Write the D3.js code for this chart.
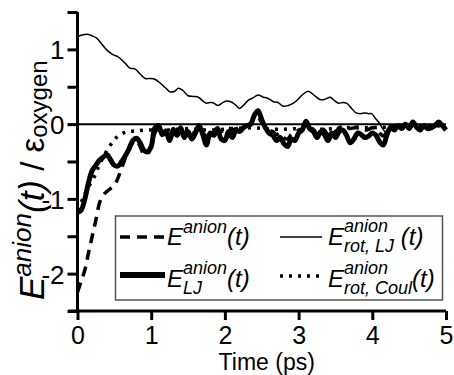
<!DOCTYPE html>
<html><head><meta charset="utf-8">
<script src="https://cdn.jsdelivr.net/npm/d3@7"></script>
<style>
html,body{margin:0;padding:0;background:#fff;}
svg{display:block;font-family:"Liberation Sans",Arial,sans-serif;}
</style></head>
<body><svg id="c" width="454" height="375"></svg>
<script>
// ---- data ----
const xTicks = [0,1,2,3,4,5];
const yTicks = [-2.5,-2,-1.5,-1,-0.5,0,0.5,1,1.5];
const yLabels = [-2,-1,0,1];

const eTotal = [[0,-2.25],[0.05,-2.10],[0.10,-1.95],[0.15,-1.72],[0.20,-1.50],[0.25,-1.28],[0.30,-1.05],[0.35,-0.95],[0.40,-0.90],[0.45,-0.86],[0.50,-0.82],[0.55,-0.72],[0.60,-0.58],[0.65,-0.45],[0.70,-0.32],[0.75,-0.25],[0.80,-0.22],[0.85,-0.30],[0.90,-0.40],[0.95,-0.40],[1.00,-0.30],[1.05,-0.12],[1.10,-0.05],
 [1.15,-0.12],[1.20,-0.08],[1.25,-0.16],[1.30,-0.06],[1.35,-0.12],[1.40,-0.08],[1.45,-0.14],[1.50,-0.06],[1.55,-0.12],[1.60,-0.10],[1.65,-0.04],[1.70,-0.10],[1.75,-0.18],[1.80,-0.10],[1.85,-0.08],[1.90,-0.06],[1.95,-0.10],[2.00,-0.07],[2.05,-0.05],[2.10,-0.08],[2.15,-0.06],[2.20,-0.05],[2.25,-0.04],[2.30,-0.03],[2.35,-0.01],[2.40,0.05],[2.45,0.08],[2.50,0.02],[2.55,-0.04],[2.60,-0.08],[2.65,-0.10],[2.70,-0.14],[2.75,-0.12],[2.80,-0.18],[2.85,-0.20],[2.90,-0.14],[2.95,-0.12],[3.00,-0.08],[3.05,-0.06],[3.10,0.00],[3.15,-0.05],[3.20,-0.07],[3.25,-0.12],[3.30,-0.06],[3.35,-0.08],[3.40,-0.14],[3.45,-0.07],[3.50,-0.10],[3.55,-0.05],[3.60,-0.04],[3.65,-0.06],[3.70,-0.06],[3.75,-0.05],[3.80,-0.04],[3.85,-0.06],[3.90,-0.08],[3.95,-0.07],[4.00,-0.05],[4.05,-0.06],[4.10,-0.12],[4.15,-0.16],[4.20,-0.10],[4.25,-0.03],[4.30,-0.06],[4.35,-0.01],[4.40,-0.05],[4.45,0.01],[4.50,-0.04],[4.55,0.02],[4.60,-0.03],[4.65,-0.06],[4.70,-0.02],[4.75,-0.05],[4.80,-0.04],[4.85,-0.01],[4.90,0.02],[4.95,-0.01],[5.00,-0.06]];

const eLJ = [[0,-1.18],[0.05,-1.15],[0.10,-1.00],[0.15,-0.78],[0.20,-0.62],[0.25,-0.55],[0.30,-0.48],[0.35,-0.44],[0.40,-0.41],[0.45,-0.48],[0.50,-0.55],[0.55,-0.56],[0.60,-0.50],[0.65,-0.42],[0.70,-0.33],[0.75,-0.22],[0.80,-0.19],[0.85,-0.25],[0.90,-0.35],[0.95,-0.37],[1.00,-0.30],[1.05,-0.05],[1.10,-0.02],[1.15,-0.14],[1.20,-0.10],[1.25,-0.22],[1.30,-0.08],[1.35,-0.15],[1.40,-0.05],[1.45,-0.18],[1.50,-0.10],[1.55,-0.20],[1.60,-0.12],[1.65,-0.02],[1.70,-0.14],[1.75,-0.28],[1.80,-0.12],[1.85,-0.15],[1.90,-0.06],[1.95,-0.20],[2.00,-0.22],[2.05,-0.10],[2.10,-0.18],[2.15,-0.08],[2.20,-0.10],[2.25,-0.05],[2.30,-0.02],[2.35,0.00],[2.40,0.12],[2.45,0.18],[2.50,0.06],[2.55,-0.05],[2.60,-0.12],[2.65,-0.15],[2.70,-0.22],[2.75,-0.18],[2.80,-0.26],[2.85,-0.30],[2.90,-0.20],[2.95,-0.22],[3.00,-0.12],[3.05,-0.08],[3.10,0.04],[3.15,-0.06],[3.20,-0.10],[3.25,-0.18],[3.30,-0.10],[3.35,-0.14],[3.40,-0.22],[3.45,-0.12],[3.50,-0.18],[3.55,-0.10],[3.60,-0.08],[3.65,-0.15],[3.70,-0.25],[3.75,-0.20],[3.80,-0.12],[3.85,-0.14],[3.90,-0.18],[3.95,-0.16],[4.00,-0.12],[4.05,-0.15],[4.10,-0.24],[4.15,-0.28],[4.20,-0.14],[4.25,-0.04],[4.30,-0.08],[4.35,-0.02],[4.40,-0.06],[4.45,0.00],[4.50,-0.06],[4.55,0.03],[4.60,-0.04],[4.65,-0.08],[4.70,-0.02],[4.75,-0.06],[4.80,-0.05],[4.85,-0.02],[4.90,0.03],[4.95,-0.02],[5.00,-0.08]];

const eRotLJ = [[0,1.17],[0.05,1.19],[0.10,1.20],[0.15,1.20],[0.20,1.18],[0.26,1.15],[0.33,1.07],[0.40,0.99],[0.48,0.93],[0.55,0.90],[0.60,0.86],[0.66,0.80],[0.71,0.75],[0.78,0.74],[0.85,0.67],[0.92,0.61],[0.98,0.61],[1.05,0.60],[1.12,0.55],[1.20,0.48],[1.26,0.43],[1.32,0.44],[1.37,0.48],[1.43,0.45],[1.50,0.38],[1.57,0.37],[1.64,0.36],[1.70,0.31],[1.75,0.28],[1.80,0.29],[1.84,0.285],[1.91,0.25],[1.96,0.28],[2.02,0.31],[2.08,0.30],[2.14,0.26],[2.20,0.21],[2.26,0.26],[2.32,0.32],[2.38,0.35],[2.45,0.39],[2.52,0.36],[2.57,0.35],[2.61,0.33],[2.66,0.30],[2.72,0.29],[2.79,0.24],[2.86,0.25],[2.93,0.28],[3.00,0.34],[3.06,0.40],[3.13,0.44],[3.18,0.41],[3.23,0.37],[3.29,0.33],[3.35,0.33],[3.43,0.36],[3.48,0.32],[3.54,0.28],[3.60,0.29],[3.65,0.28],[3.72,0.21],[3.78,0.15],[3.84,0.14],[3.90,0.15],[3.95,0.14],[3.99,0.14],[4.04,0.08],[4.10,0.01],[4.14,-0.06],[4.18,-0.10],[4.22,-0.05],[4.28,-0.02],[4.35,-0.03],[4.42,-0.01],[4.48,-0.05],[4.55,0.02],[4.62,-0.05],[4.68,-0.04],[4.75,-0.06],[4.82,-0.03],[4.90,0.02],[4.95,-0.02],[5.00,-0.07]];

const eRotCoul = [[0,-1.15],[0.05,-1.05],[0.10,-0.93],[0.15,-0.84],[0.23,-0.70],[0.29,-0.56],[0.35,-0.44],[0.42,-0.32],[0.49,-0.22],[0.55,-0.16],[0.62,-0.12],[0.70,-0.10],[0.80,-0.09],[0.95,-0.08],[1.2,-0.08],[1.5,-0.06],[1.8,-0.08],[2.1,-0.06],[2.4,-0.05],[2.7,-0.07],[3.0,-0.06],[3.3,-0.07],[3.6,-0.05],[3.9,-0.05],[4.2,-0.04],[4.5,-0.03],[4.8,-0.02],[5.0,-0.03]];

// ---- chart ----
const svg = d3.select("#c");
const x = d3.scaleLinear().domain([0,5]).range([77.5,446]);
const y = d3.scaleLinear().domain([-2.5,1.5]).range([311,12]);

// zero line
svg.append("line").attr("x1",x(0)).attr("x2",x(5)).attr("y1",y(0)).attr("y2",y(0))
  .attr("stroke","#000").attr("stroke-width",2);

const line = d3.line().x(d=>x(d[0])).y(d=>y(d[1])).curve(d3.curveCatmullRom);
const styles = {
  total:{w:3.5,dash:"10,7"},
  lj:{w:5,dash:null},
  rotlj:{w:1.5,dash:null},
  coul:{w:3.5,dash:"3,6"}
};
function draw(data, st){
  svg.append("path").datum(data).attr("d",line).attr("fill","none")
    .attr("stroke","#000").attr("stroke-width",st.w)
    .attr("stroke-dasharray",st.dash).attr("stroke-linejoin","round");
}
draw(eRotLJ, styles.rotlj);
draw(eRotCoul, styles.coul);
draw(eTotal, styles.total);
draw(eLJ, styles.lj);

// axes
const yAxis = d3.axisLeft(y).tickValues(yTicks).tickSize(10)
  .tickFormat(d=> yLabels.includes(d) ? String(d) : "");
const gy = svg.append("g").attr("transform",`translate(${x(0)},0)`).call(yAxis);
gy.select(".domain").attr("stroke-width",3).attr("d",`M0,${y(1.5)}V${y(-2.5)}`);
gy.selectAll(".tick line").attr("stroke-width",3);
gy.selectAll(".tick text").attr("font-size",26).attr("font-family","Liberation Sans, Arial, sans-serif").attr("x",-13).attr("dy","0.36em");

const xAxis = d3.axisBottom(x).tickValues(xTicks).tickSize(9).tickFormat(d=>String(d));
const gx = svg.append("g").attr("transform",`translate(0,${y(-2.5)})`).call(xAxis);
gx.select(".domain").attr("stroke-width",3).attr("d",`M${x(0)-9},0H${x(5)}`);
gx.selectAll(".tick line").attr("stroke-width",3);
gx.selectAll(".tick text").attr("font-size",25).attr("font-family","Liberation Sans, Arial, sans-serif").attr("y",15).attr("dy","0.71em");

svg.append("text").attr("x",(x(0)+x(5))/2+5).attr("y",370).attr("text-anchor","middle")
  .attr("font-size",23).text("Time (ps)");

// rich text helper: sequential runs, optional stacked sup/sub
function rich(g, x0, y0, runs){
  let cx = x0;
  let stackStart = null, stackW = 0;
  runs.forEach(r=>{
    if(r.stackNext){ stackStart = cx; }
    const px = (r.stackSecond ? stackStart : cx);
    const t = g.append("text").attr("x",px).attr("y",y0 + (r.dy||0))
      .attr("font-size",r.size).attr("font-style",r.it?"italic":"normal")
      .attr("xml:space","preserve").text(r.t);
    const w = t.node().getComputedTextLength();
    if(r.stackNext){ stackW = w; cx = px + w; }
    else if(r.stackSecond){ cx = stackStart + Math.max(stackW,w); }
    else cx = px + w;
  });
  return cx;
}

// y title
const gt = svg.append("g").attr("transform","translate(44,300) rotate(-90)");
rich(gt,0,0,[
  {t:"E",size:35,it:true},
  {t:"anion",size:26,it:true,dy:-13},
  {t:"(t)",size:35,it:true},
  {t:" / ε",size:33},
  {t:"oxygen",size:24,dy:3}
]);

// legend
const lg = svg.append("g");
lg.append("rect").attr("x",115.5).attr("y",216).attr("width",327).attr("height",84)
  .attr("fill","#fff").attr("stroke","#555").attr("stroke-width",1.5);
function sample(x1,x2,yy,st){
  lg.append("line").attr("x1",x1).attr("x2",x2).attr("y1",yy).attr("y2",yy)
    .attr("stroke","#000").attr("stroke-width",st.w).attr("stroke-dasharray",st.dash);
}
sample(120,165,237,styles.total);
sample(120,165,275,{w:6,dash:null});
sample(280,322,237,styles.rotlj);
sample(280,322,276,styles.coul);
rich(lg,167,245,[
  {t:"E",size:24,it:true},
  {t:"anion",size:18,it:true,dy:-12},
  {t:"(t)",size:24,it:true}
]);
rich(lg,167,287,[
  {t:"E",size:24,it:true},
  {t:"anion",size:18,it:true,dy:-13,stackNext:true},
  {t:"LJ",size:18,it:true,dy:7,stackSecond:true},
  {t:"(t)",size:24,it:true}
]);
rich(lg,328,245,[
  {t:"E",size:24,it:true},
  {t:"anion",size:18,it:true,dy:-13,stackNext:true},
  {t:"rot, LJ",size:18,it:true,dy:7,stackSecond:true},
  {t:" (t)",size:24,it:true}
]);
rich(lg,328,287,[
  {t:"E",size:24,it:true},
  {t:"anion",size:18,it:true,dy:-13,stackNext:true},
  {t:"rot, Coul",size:18,it:true,dy:7,stackSecond:true},
  {t:"(t)",size:24,it:true}
]);
</script></body></html>
